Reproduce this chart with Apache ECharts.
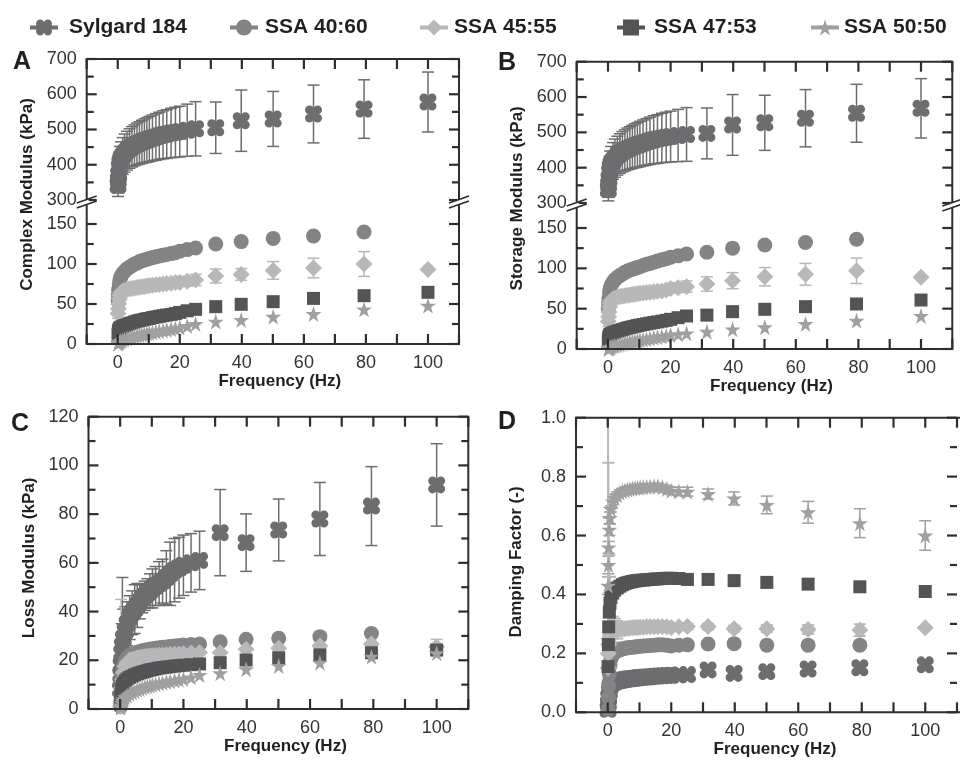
<!DOCTYPE html>
<html>
<head>
<meta charset="utf-8">
<script src="https://cdn.jsdelivr.net/npm/echarts@6/dist/echarts.min.js"></script>
<style>
  html, body { margin: 0; padding: 0; background: #fff; }
  #chart { width: 960px; height: 761px; }
</style>
</head>
<body>
<div id="chart"></div>
<script>
// ---- frequency sweep (Hz) shared by every sample ----
const freq = [0.1, 0.2, 0.3, 0.5, 0.7, 1.0, 1.6, 2.2, 3.0, 3.8, 4.6, 5.4, 6.2, 7.0, 7.8, 8.6, 9.4,
  10.2, 11.2, 12.3, 13.4, 14.6, 15.8, 17.2, 18.6, 20, 22.4, 25.1, 31.6, 39.8, 50.1, 63.1, 79.4, 100];

const sampleNames = ['Sylgard 184', 'SSA 40:60', 'SSA 45:55', 'SSA 47:53', 'SSA 50:50'];

// ---- A: complex modulus (kPa) ----
const complexSylgard = [342, 356, 372, 392, 405, 415, 425, 433, 440, 446, 451, 455, 459, 462, 465, 468, 470,
  473, 476, 479, 482, 485, 487, 490, 492, 494, 498, 502, 505, 525, 530, 544, 558, 578];
const complexSylgardSd = [32, 36, 40, 44, 47, 50, 52, 54, 55, 56, 57, 58, 59, 60, 61, 62, 63,
  64, 65, 66, 67, 68, 69, 70, 71, 72, 74, 77, 73, 87, 78, 82, 83, 85];
const complex4060 = [55, 62, 68, 75, 80, 84, 88, 91, 94, 96, 98, 100, 101, 103, 104, 105, 106,
  107, 108, 109, 110, 111, 112, 113, 114, 116, 118, 120, 125, 128, 132, 135, 140, null];
const complex4555 = [38, 44, 50, 56, 61, 64, 66, 67, 68, 69, 69.5, 70, 70.5, 71, 71.5, 72, 72.5,
  73, 73.5, 74, 74.5, 75, 75.5, 76, 77, 77, 78.5, 80, 85, 87, 92, 95, 100, 93];
const complex4555Sd = [6, 6, 5, 5, 5, 5, 4, 4, 4, 4, 4, 4, 4, 4, 4, 4, 4,
  4, 4, 4, 4, 4, 4, 5, 5, 5, 6, 7, 8.7, 7.3, 11, 12.3, 15.5, 0];
const complex4753 = [12, 15, 17, 19, 20, 21, 22, 23, 24, 25.5, 26.5, 27.5, 28.5, 29.3, 30, 30.8, 31.5,
  32, 33, 33.8, 34.6, 35.4, 36.2, 37, 38, 39.5, 41.5, 43.3, 46.7, 49.6, 52.9, 57, 60.4, 64.6];
const complex5050 = [0.5, 1, 1.5, 2.2, 3, 3.8, 4.8, 5.8, 6.8, 7.8, 8.7, 9.5, 10.3, 11, 11.7, 12.3, 13,
  13.6, 14.4, 15.2, 16, 16.8, 17.6, 18.6, 19.5, 20.5, 22.5, 25, 28, 30, 34, 37.5, 43.3, 48];

// ---- B: storage modulus (kPa) ----
const storageSylgard = [338, 352, 368, 388, 400, 410, 419, 427, 434, 440, 445, 449, 453, 456, 459, 462, 464,
  467, 470, 473, 476, 479, 481, 484, 486, 488, 491, 494, 497, 521, 527, 540, 554, 568];
const storageSylgardSd = [32, 36, 40, 44, 47, 50, 52, 54, 55, 56, 57, 58, 59, 60, 61, 62, 63,
  64, 65, 66, 67, 68, 69, 70, 71, 72, 74, 76, 72, 86, 78, 81, 82, 84];
const storage4060 = [50, 57, 63, 70, 75, 79, 83, 86, 89, 91, 93, 95, 96.5, 98, 99, 100, 101,
  102, 103.5, 105, 106, 107.5, 109, 110.5, 112, 113.7, 115.5, 117.8, 120, 125, 129, 132, 136, null];
const storage4555 = [34, 40, 46, 52, 57, 60, 62, 63, 64, 65, 65.5, 66, 66.5, 67, 67.5, 68, 68.5,
  69, 69.5, 70, 70.5, 71, 71.5, 72, 73, 75, 76, 77.3, 80.6, 84.7, 89.6, 92.6, 97, 89];
const storage4555Sd = [6, 6, 5, 5, 5, 5, 4, 4, 4, 4, 4, 4, 4, 4, 4, 4, 4,
  4, 4, 4, 4, 4, 4, 5, 5, 5, 6, 7, 9, 10, 11.4, 13.5, 15.8, 0];
const storage4753 = [10, 13, 15, 17, 18, 19, 20, 21, 22, 23, 24, 25, 26, 26.8, 27.5, 28.2, 29,
  29.6, 30.4, 31.2, 32, 32.8, 33.6, 34.5, 35.5, 36.8, 38.8, 40.9, 42, 46.3, 49.2, 52.5, 55.8, 60.7];
const storage5050 = [0.3, 0.6, 1, 1.5, 2, 2.6, 3.3, 4, 4.8, 5.6, 6.4, 7.1, 7.8, 8.4, 9, 9.6, 10.2,
  10.8, 11.5, 12.2, 13, 13.8, 14.6, 15.4, 16.2, 17.4, 18.4, 19.4, 21.5, 24.4, 27, 31, 35, 41];

// ---- C: loss modulus (kPa) ----
const lossSylgard = [8, 14, 18, 23, 26, 29, 32, 35, 37.5, 39.5, 41, 42.5, 44, 45.5, 46.5, 47.5, 48.5,
  49.5, 50.5, 51.5, 52.5, 54, 55.5, 57, 58, 59, 60, 61, 72.4, 68.3, 73.5, 78, 83.3, 92];
const lossSylgardSd = [6, 8, 10, 12, 28, 12, 10, 9, 9, 9, 10, 9, 7, 6, 6, 6, 7,
  8, 8, 9, 9, 11, 13, 13, 12.5, 12.4, 12, 12, 17.7, 11.8, 12.7, 15, 16.2, 16.9];
const loss4060 = [1, 3, 6, 10, 14, 17, 19.5, 21, 22, 22.5, 23, 23.3, 23.6, 23.9, 24.1, 24.3, 24.5,
  24.7, 24.9, 25.1, 25.3, 25.5, 25.7, 25.9, 26.1, 26.3, 26.5, 26.7, 27.6, 28.6, 29, 29.7, 31, null];
const loss4555 = [1, 2.5, 5, 8.5, 12, 15, 17.5, 19, 20, 20.3, 20.6, 20.9, 21.1, 21.3, 21.5, 21.7, 21.8,
  21.9, 22, 22.1, 22.2, 22.3, 22.4, 22.5, 22.6, 22.8, 23, 23.2, 23.1, 24.5, 24.9, 25.9, 26.7, 25.6];
const loss4555Sd = [3, 6, 40, 20, 10, 6, 4, 3, 3, 3, 3, 3, 3, 3, 3, 3, 3,
  3, 3, 3, 3, 3, 3, 3, 3, 3, 3, 3, 3, 3, 3, 3, 3.3, 3];
const loss4753 = [2, 4, 6, 8, 9.5, 10.5, 11.5, 12.3, 13, 13.5, 14, 14.4, 14.8, 15.1, 15.4, 15.7, 16,
  16.2, 16.5, 16.8, 17, 17.2, 17.4, 17.6, 17.8, 18, 18.2, 18.5, 19, 20.1, 21, 22.2, 23.1, 24.2];
const loss5050 = [0.5, 1, 1.5, 2.5, 3.3, 4, 4.8, 5.5, 6.2, 6.8, 7.3, 7.8, 8.2, 8.6, 9, 9.3, 9.6,
  9.9, 10.2, 10.5, 10.8, 11.1, 11.4, 11.7, 12, 12.3, 13, 14, 14.7, 16.3, 17.7, 19, 21.5, 22.9];

// ---- D: damping factor (-) ----
const dampSylgard = [0.01, 0.03, 0.05, 0.07, 0.085, 0.095, 0.1, 0.103, 0.106, 0.108, 0.11, 0.111, 0.113, 0.114, 0.115, 0.116, 0.117,
  0.118, 0.119, 0.12, 0.121, 0.122, 0.123, 0.124, 0.125, 0.126, 0.127, 0.128, 0.144, 0.132, 0.138, 0.147, 0.151, 0.161];
const damp4060 = [0.01, 0.05, 0.09, 0.13, 0.16, 0.18, 0.195, 0.203, 0.208, 0.212, 0.215, 0.217, 0.219, 0.22, 0.221, 0.222, 0.223,
  0.224, 0.225, 0.226, 0.227, 0.228, 0.229, 0.229, 0.228, 0.225, 0.228, 0.229, 0.232, 0.233, 0.228, 0.228, 0.228, null];
const damp4555 = [0.15, 0.2, 0.23, 0.25, 0.26, 0.27, 0.275, 0.278, 0.28, 0.282, 0.283, 0.284, 0.285, 0.286, 0.287, 0.288, 0.288,
  0.289, 0.289, 0.29, 0.29, 0.29, 0.29, 0.29, 0.29, 0.288, 0.29, 0.291, 0.291, 0.284, 0.284, 0.281, 0.279, 0.287];
const damp4555Sd = [0.9, 0.647, 0.43, 0.285, 0.2, 0.12, 0.05, 0.04, 0.03, 0.02, 0.02, 0.01, 0.01, 0.01, 0.01, 0.01, 0.01,
  0.01, 0.01, 0.01, 0.01, 0.01, 0.01, 0.01, 0.01, 0.01, 0.01, 0.01, 0.01, 0.01, 0.012, 0.015, 0.02, 0];
const damp4753 = [0.155, 0.23, 0.29, 0.34, 0.37, 0.39, 0.405, 0.415, 0.422, 0.428, 0.433, 0.437, 0.44, 0.442, 0.444, 0.446, 0.447,
  0.448, 0.449, 0.45, 0.451, 0.452, 0.453, 0.454, 0.455, 0.455, 0.454, 0.451, 0.451, 0.447, 0.441, 0.435, 0.426, 0.41];
const damp5050 = [0.43, 0.5, 0.56, 0.62, 0.66, 0.69, 0.715, 0.728, 0.738, 0.745, 0.75, 0.753, 0.756, 0.758, 0.76, 0.761, 0.762,
  0.763, 0.764, 0.765, 0.766, 0.767, 0.767, 0.764, 0.758, 0.752, 0.75, 0.749, 0.741, 0.726, 0.704, 0.679, 0.642, 0.6];
const damp5050Sd = [0.03, 0.03, 0.02, 0.02, 0.02, 0.01, 0.01, 0.01, 0.01, 0.01, 0.01, 0.01, 0.01, 0.01, 0.01, 0.01, 0.01,
  0.01, 0.01, 0.01, 0.01, 0.01, 0.01, 0.01, 0.012, 0.013, 0.014, 0.015, 0.017, 0.022, 0.03, 0.037, 0.049, 0.05];

// ---- axis tick ranges ----
const freqRange = [-10, 110];
const freqLabels = [0, 20, 40, 60, 80, 100];
const modulusUpperRange = [300, 700];
const modulusLowerRange = [0, 150];
const lossRange = [0, 120];
const dampingRange = [0, 1.0];

// ---- styling ----
const FONT = '"Liberation Sans", Arial, Helvetica, sans-serif';
const INK = '#231f20';
const AXIS = '#2e2e2e';
const sampleColors = ['#6c6d6f', '#848486', '#b8b8ba', '#545456', '#a0a0a2'];
// lobed cross: four round corners joined by a square body
const crossPath = 'path://M0,2.6 A2.6,2.6 0 1 1 5.2,2.6 A2.6,2.6 0 1 1 0,2.6 Z ' +
  'M4.8,2.6 A2.6,2.6 0 1 1 10,2.6 A2.6,2.6 0 1 1 4.8,2.6 Z ' +
  'M4.8,7.4 A2.6,2.6 0 1 1 10,7.4 A2.6,2.6 0 1 1 4.8,7.4 Z ' +
  'M0,7.4 A2.6,2.6 0 1 1 5.2,7.4 A2.6,2.6 0 1 1 0,7.4 Z ' +
  'M2,2 L8,2 L8,8 L2,8 Z';
const starPath = 'path://M5,0 L6.18,3.6 L10,3.6 L6.9,5.9 L8.1,9.5 L5,7.3 L1.9,9.5 L3.1,5.9 L0,3.6 L3.82,3.6 Z';
const sampleSymbols = [crossPath, 'circle', 'diamond', 'rect', starPath];
const sampleSizes = [17, 15, 17, 13, 16];

const grids = [], xAxes = [], yAxes = [], seriesList = [], graphics = [];
const plots = [];
const hiddenLine = { show: false, onZero: false };

// Panel outline and the axis titles that span the whole panel.
function addFrame(r, yTitle, yShift, xShift) {
  const gi = grids.length;
  grids.push({ left: r.l, top: r.t, width: r.r - r.l, height: r.b - r.t, show: false });
  graphics.push({ type: 'rect', z: 90, silent: true,
    shape: { x: r.l, y: r.t, width: r.r - r.l, height: r.b - r.t },
    style: { fill: null, stroke: AXIS, lineWidth: 2 } });
  xAxes.push({ gridIndex: gi, type: 'value', min: 0, max: 1, show: true,
    axisLine: hiddenLine, axisTick: { show: false }, axisLabel: { show: false }, splitLine: { show: false },
    name: 'Frequency (Hz)', nameLocation: 'middle', nameGap: 29,
    nameTextStyle: { fontFamily: FONT, fontWeight: 'bold', fontSize: 17, color: INK, padding: [0, 0, 0, xShift * 2] } });
  yAxes.push({ gridIndex: gi, type: 'value', min: 0, max: 1, show: true,
    axisLine: hiddenLine, axisTick: { show: false }, axisLabel: { show: false }, splitLine: { show: false },
    name: yTitle, nameLocation: 'middle', nameGap: 51,
    nameTextStyle: { fontFamily: FONT, fontWeight: 'bold', fontSize: 17, color: INK, padding: [0, 0, 0, yShift * 2] } });
}

function fmtX(v) { return freqLabels.indexOf(v) >= 0 ? String(v) : ''; }

// One plotting area with labelled bottom / left axes.
function addPlot(rect, yRange, yInterval, opts) {
  const gi = grids.length;
  grids.push({ left: rect.l, top: rect.t, width: rect.r - rect.l, height: rect.b - rect.t, show: false });
  const xi = xAxes.length;
  xAxes.push({ gridIndex: gi, type: 'value', position: 'bottom', min: freqRange[0], max: freqRange[1], interval: 10,
    axisLine: hiddenLine, splitLine: { show: false }, axisTick: { show: false },
    axisLabel: { show: opts.bottom, formatter: fmtX, margin: 10, fontFamily: FONT, fontSize: 18, color: '#333' } });
  const yi = yAxes.length;
  yAxes.push({ gridIndex: gi, type: 'value', position: 'left', min: yRange[0], max: yRange[1], interval: yInterval,
    axisLine: hiddenLine, splitLine: { show: false }, axisTick: { show: false },
    axisLabel: { show: true, margin: 10, fontFamily: FONT, fontSize: 18, color: '#333', formatter: opts.yFmt } });
  const axes = { xi, yi, yRange, yInterval, top: opts.top, bottom: opts.bottom };
  plots.push(axes);
  return axes;
}

// Inside tick marks on all four sides, positioned through each plot's axes.
function tickGraphics() {
  const out = [];
  const seg = (a, b) => out.push({ type: 'line', z: 95, silent: true,
    shape: { x1: a[0], y1: a[1], x2: b[0], y2: b[1] }, style: { stroke: AXIS, lineWidth: 2.2 } });
  plots.forEach(p => {
    const finder = { xAxisIndex: p.xi, yAxisIndex: p.yi };
    const px = v => chart.convertToPixel(finder, v);
    const nx = Math.round((freqRange[1] - freqRange[0]) / 10);
    for (let k = 0; k <= nx; k++) {
      const v = freqRange[0] + k * 10;
      if (p.bottom) { const a = px([v, p.yRange[0]]); seg(a, [a[0], a[1] - 10]); }
      if (p.top) { const a = px([v, p.yRange[1]]); seg(a, [a[0], a[1] + 10]); }
    }
    const half = p.yInterval / 2;
    const ny = Math.round((p.yRange[1] - p.yRange[0]) / half);
    for (let k = 0; k <= ny; k++) {
      const v = p.yRange[0] + k * half;
      const len = k % 2 === 0 ? 10 : 7;
      const l = px([freqRange[0], v]);
      const r = px([freqRange[1], v]);
      seg(l, [l[0] + len, l[1]]);
      seg(r, [r[0] - len, r[1]]);
    }
  });
  return out;
}

function pairs(ys) {
  const out = [];
  freq.forEach((f, i) => { if (ys[i] != null) out.push([f, ys[i]]); });
  return out;
}

function addMarks(axes, k, ys) {
  seriesList.push({ type: 'line', name: sampleNames[k], xAxisIndex: axes.xi, yAxisIndex: axes.yi,
    data: pairs(ys), symbol: sampleSymbols[k], symbolSize: sampleSizes[k], showSymbol: true, showAllSymbol: true,
    lineStyle: { width: 0, opacity: 0 }, itemStyle: { color: sampleColors[k], opacity: 1 },
    emphasis: { disabled: true }, z: 3, animation: false });
}

function addErrors(axes, k, ys, sds, width) {
  const data = [];
  freq.forEach((f, i) => { if (ys[i] != null && sds[i] > 0) data.push([f, ys[i], sds[i]]); });
  const lo = axes.yRange[0], hi = axes.yRange[1];
  const color = sampleColors[k];
  seriesList.push({ type: 'custom', name: sampleNames[k] + ' SD', xAxisIndex: axes.xi, yAxisIndex: axes.yi,
    data, encode: { x: 0, y: 1 }, z: 2, silent: true, animation: false,
    renderItem(params, api) {
      const x = api.value(0), y = api.value(1), e = api.value(2);
      const top = api.coord([x, Math.min(y + e, hi)]);
      const bot = api.coord([x, Math.max(y - e, lo)]);
      const style = { stroke: color, lineWidth: width || 1.5, fill: null };
      const cap = 6;
      const kids = [{ type: 'line', shape: { x1: top[0], y1: top[1], x2: bot[0], y2: bot[1] }, style }];
      if (y + e <= hi) kids.push({ type: 'line', shape: { x1: top[0] - cap, y1: top[1], x2: top[0] + cap, y2: top[1] }, style });
      if (y - e >= lo) kids.push({ type: 'line', shape: { x1: bot[0] - cap, y1: bot[1], x2: bot[0] + cap, y2: bot[1] }, style });
      return { type: 'group', children: kids };
    } });
}

function addBreak(x, y) {
  graphics.push({ type: 'rect', shape: { x: x - 2, y: y - 2.5, width: 4, height: 5 }, style: { fill: '#fff' }, z: 100 });
  [-2.5, 2.5].forEach(d => graphics.push({ type: 'line', z: 101,
    shape: { x1: x - 10, y1: y + d + 3.5, x2: x + 10, y2: y + d - 3.5 }, style: { stroke: AXIS, lineWidth: 1.6 } }));
}

function addLetter(t, x, y) {
  graphics.push({ type: 'text', x, y, z: 100,
    style: { text: t, font: 'bold 25px ' + FONT, fill: INK, align: 'center', verticalAlign: 'middle' } });
}

const yFmtInt = v => String(v);
const yFmtDec = v => v.toFixed(1);

// ---- Panel A ----
(function () {
  const f = { l: 86.7, t: 59, r: 459, b: 344 };
  addFrame(f, 'Complex Modulus (kPa)', 7, 7);
  const up = addPlot({ l: f.l, t: f.t, r: f.r, b: 200 }, modulusUpperRange, 100, { top: true, bottom: false, yFmt: yFmtInt });
  const dn = addPlot({ l: f.l, t: 224, r: f.r, b: f.b }, modulusLowerRange, 50, { top: false, bottom: true, yFmt: yFmtInt });
  addErrors(up, 0, complexSylgard, complexSylgardSd);
  addErrors(dn, 2, complex4555, complex4555Sd);
  addMarks(up, 0, complexSylgard);
  addMarks(dn, 1, complex4060);
  addMarks(dn, 2, complex4555);
  addMarks(dn, 3, complex4753);
  addMarks(dn, 4, complex5050);
  addBreak(f.l, 202); addBreak(f.r, 202);
  addLetter('A', 22, 62);
})();

// ---- Panel B ----
(function () {
  const f = { l: 576.7, t: 61.7, r: 952.3, b: 349 };
  addFrame(f, 'Storage Modulus (kPa)', 7, 7);
  const up = addPlot({ l: f.l, t: f.t, r: f.r, b: 203 }, modulusUpperRange, 100, { top: true, bottom: false, yFmt: yFmtInt });
  const dn = addPlot({ l: f.l, t: 228, r: f.r, b: f.b }, modulusLowerRange, 50, { top: false, bottom: true, yFmt: yFmtInt });
  addErrors(up, 0, storageSylgard, storageSylgardSd);
  addErrors(dn, 2, storage4555, storage4555Sd);
  addMarks(up, 0, storageSylgard);
  addMarks(dn, 1, storage4060);
  addMarks(dn, 2, storage4555);
  addMarks(dn, 3, storage4753);
  addMarks(dn, 4, storage5050);
  addBreak(f.l, 205); addBreak(f.r, 205);
  addLetter('B', 507, 63);
})();

// ---- Panel C ----
(function () {
  const f = { l: 88.5, t: 416.7, r: 468.3, b: 709 };
  addFrame(f, 'Loss Modulus (kPa)', 5, 7);
  const p = addPlot(f, lossRange, 20, { top: true, bottom: true, yFmt: yFmtInt });
  addErrors(p, 0, lossSylgard, lossSylgardSd);
  addErrors(p, 2, loss4555, loss4555Sd);
  addMarks(p, 0, lossSylgard);
  addMarks(p, 1, loss4060);
  addMarks(p, 2, loss4555);
  addMarks(p, 3, loss4753);
  addMarks(p, 4, loss5050);
  addLetter('C', 20, 424);
})();

// ---- Panel D ----
(function () {
  const f = { l: 576, t: 417.7, r: 961, b: 712.3 };
  addFrame(f, 'Damping Factor (-)', 3, 7);
  const p = addPlot(f, dampingRange, 0.2, { top: true, bottom: true, yFmt: yFmtDec });
  addErrors(p, 4, damp5050, damp5050Sd);
  addMarks(p, 0, dampSylgard);
  addMarks(p, 1, damp4060);
  addMarks(p, 2, damp4555);
  addMarks(p, 3, damp4753);
  addMarks(p, 4, damp5050);
  addErrors(p, 2, damp4555, damp4555Sd, 2);
  addLetter('D', 507, 422);
})();

// ---- legend row ----
const legendLefts = [28, 228, 418, 615, 809];
const legendPads = [6, 2, 1, 4, 0];
const legends = sampleNames.map((n, i) => ({
  data: [n], left: legendLefts[i], top: 17, itemWidth: 28, itemHeight: 20, itemGap: 0, padding: 0,
  selectedMode: false,
  lineStyle: { width: 4, opacity: 1 },
  textStyle: { fontFamily: FONT, fontWeight: 'bold', fontSize: 21, color: INK, padding: [0, 0, 0, legendPads[i]] }
}));

const chart = echarts.init(document.getElementById('chart'), null, { renderer: 'canvas' });
chart.setOption({
  animation: false,
  backgroundColor: '#ffffff',
  legend: legends,
  grid: grids,
  xAxis: xAxes,
  yAxis: yAxes,
  series: seriesList,
  graphic: graphics
});
// ticks need the finished layout, so they are added once the axes exist
chart.setOption({ graphic: graphics.concat(tickGraphics()) });
</script>
</body>
</html>
